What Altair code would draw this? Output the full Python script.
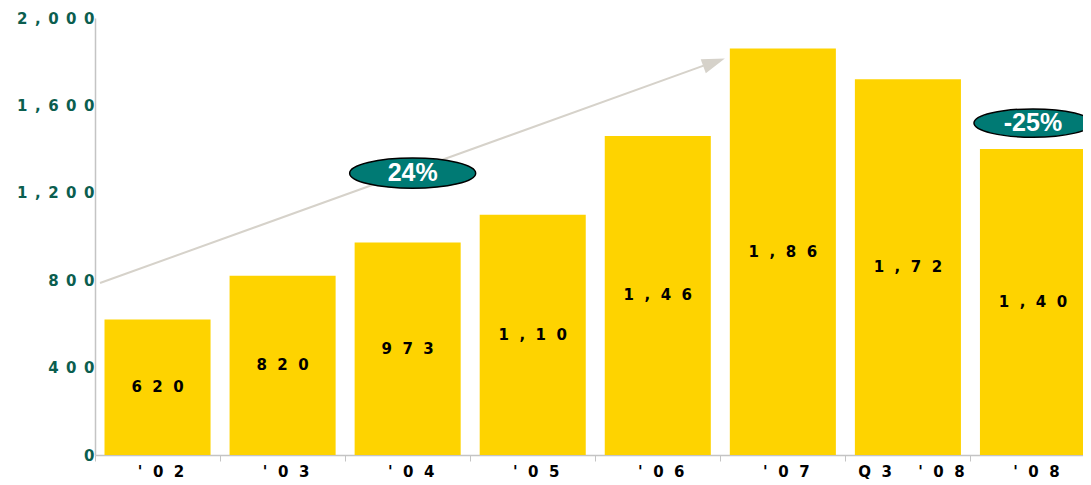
import altair as alt
import pandas as pd

# ---- data ----
categories = ["'02", "'03", "'04", "'05", "'06", "'07", "Q3 '08", "'08"]
values = [620, 820, 973, 1100, 1460, 1860, 1720, 1400]
bar_labels = ["620", "820", "973", "1,10", "1,46", "1,86", "1,72", "1,40"]
y_ticks = [0, 400, 800, 1200, 1600, 2000]

# growth annotations (x in category-slot units, y in values)
growth_labels = ["24%", "-25%"]
growth_x = [2.54, 7.5]
growth_y = [1290, 1519]
growth_w = [126, 118]

arrow_start = (0.04, 787)
arrow_end = (4.9, 1789)
arrow_head = (4.95, 1797)

SPACE = "\u2002\u2009"
spaced = "join(split({}, ''), '" + SPACE + "')"
spaced_y = "join(split({}, ''), '\u2002')"

YELLOW = "#FED300"
TEAL = "#007A74"
GREEN = "#0B5E4F"
ARROW = "#D6D2CA"
AXIS = "#C4C4C4"
FONT = "DejaVu Sans"
FS = 15

W, H = 988, 437
X_MAX = 7.9          # visible part of the 8 category slots
BAR_FRAC = 0.848

df = pd.DataFrame({"cat": categories, "v": values, "lab": bar_labels, "i": list(range(len(categories)))})

cat_lookup = "[" + ",".join("'" + c.replace("'", "\\'") + "'" for c in categories) + "]"
xlabel_expr = (
    "datum.value < " + str(len(categories)) + " ? join(split(" + cat_lookup +
    "[floor(datum.value)], ''), '" + SPACE + "') : ''"
)

xscale = alt.Scale(domain=[0, X_MAX], nice=False, zero=False)
yscale = alt.Scale(domain=[0, 2000], nice=False)

xaxis = alt.Axis(
    title=None,
    values=list(range(len(categories))),
    labelExpr=xlabel_expr,
    labelOffset=W / X_MAX / 2 + 3,
    labelAngle=0,
    labelFont=FONT,
    labelFontWeight="bold",
    labelFontSize=FS,
    labelColor="black",
    labelPadding=3,
    labelFlush=False,
    labelOverlap=False,
    labelBound=False,
    domainColor=AXIS,
    domainWidth=1.5,
    tickColor=AXIS,
    tickSize=6,
    grid=False,
)

yaxis = alt.Axis(
    title=None,
    values=y_ticks,
    ticks=False,
    grid=False,
    labelFont=FONT,
    labelFontWeight="bold",
    labelFontSize=FS,
    labelColor=GREEN,
    labelPadding=1,
    labelExpr=spaced_y.format("format(datum.value, ',')"),
    domainColor=AXIS,
    domainWidth=1.5,
)


def X(f):
    return alt.X(f, type="quantitative", scale=xscale, axis=xaxis)


def Y(f):
    return alt.Y(f, type="quantitative", scale=yscale, axis=yaxis)


base = alt.Chart(df).transform_calculate(
    x0="datum.i + 0.5 - %f / 2" % BAR_FRAC,
    x1="datum.i + 0.5 + %f / 2" % BAR_FRAC,
    xc="datum.i + 0.5",
    mid="datum.v / 2",
    t=spaced.format("datum.lab"),
)

bars = base.mark_bar(color=YELLOW).encode(
    x=X("x0"), x2="x1:Q", y=Y("v"), y2=alt.datum(0),
)

texts = base.mark_text(
    font=FONT, fontWeight="bold", fontSize=FS, color="black", baseline="middle"
).encode(x=X("xc"), y=Y("mid"), text="t:N")

arrow_df = pd.DataFrame({"x1": [arrow_start[0]], "y1": [arrow_start[1]],
                         "x2": [arrow_end[0]], "y2": [arrow_end[1]]})
arrow = alt.Chart(arrow_df).mark_rule(color=ARROW, strokeWidth=2).encode(
    x=X("x1"), x2="x2:Q", y=Y("y1"), y2="y2:Q"
)

head_df = pd.DataFrame({"x": [arrow_head[0]], "y": [arrow_head[1]]})
head = alt.Chart(head_df).mark_point(
    shape="M1,0L-1,-0.65L-1,0.65Z", size=529, angle=340, filled=True,
    fill=ARROW, color=ARROW, opacity=1, strokeWidth=0,
).encode(x=X("x"), y=Y("y"))

g_df = pd.DataFrame({"x": growth_x, "y": growth_y, "t": growth_labels, "w": growth_w})
g_df["s"] = g_df["w"] ** 2
ell = alt.Chart(g_df).mark_point(
    shape="M-1,0A1,0.24,0,1,1,1,0A1,0.24,0,1,1,-1,0Z",
    filled=True, fill=TEAL, stroke="black", strokeWidth=1.5, opacity=1, fillOpacity=1,
).encode(x=X("x"), y=Y("y"), size=alt.Size("s:Q", scale=None, legend=None))

ell_text = alt.Chart(g_df).mark_text(
    font="Liberation Sans", fontWeight="bold", fontSize=25, color="white", baseline="middle"
).encode(x=X("x"), y=Y("y"), text="t:N")

chart = (
    alt.layer(bars, texts, arrow, head, ell, ell_text)
    .properties(
        width=W,
        height=H,
        background="white",
        padding={"left": 87, "top": 10, "right": 0, "bottom": 30},
        autosize=alt.AutoSizeParams(type="none"),
    )
    .configure_view(strokeWidth=0)
)

chart.save("out.html", embed_options={"renderer": "svg", "actions": False})
